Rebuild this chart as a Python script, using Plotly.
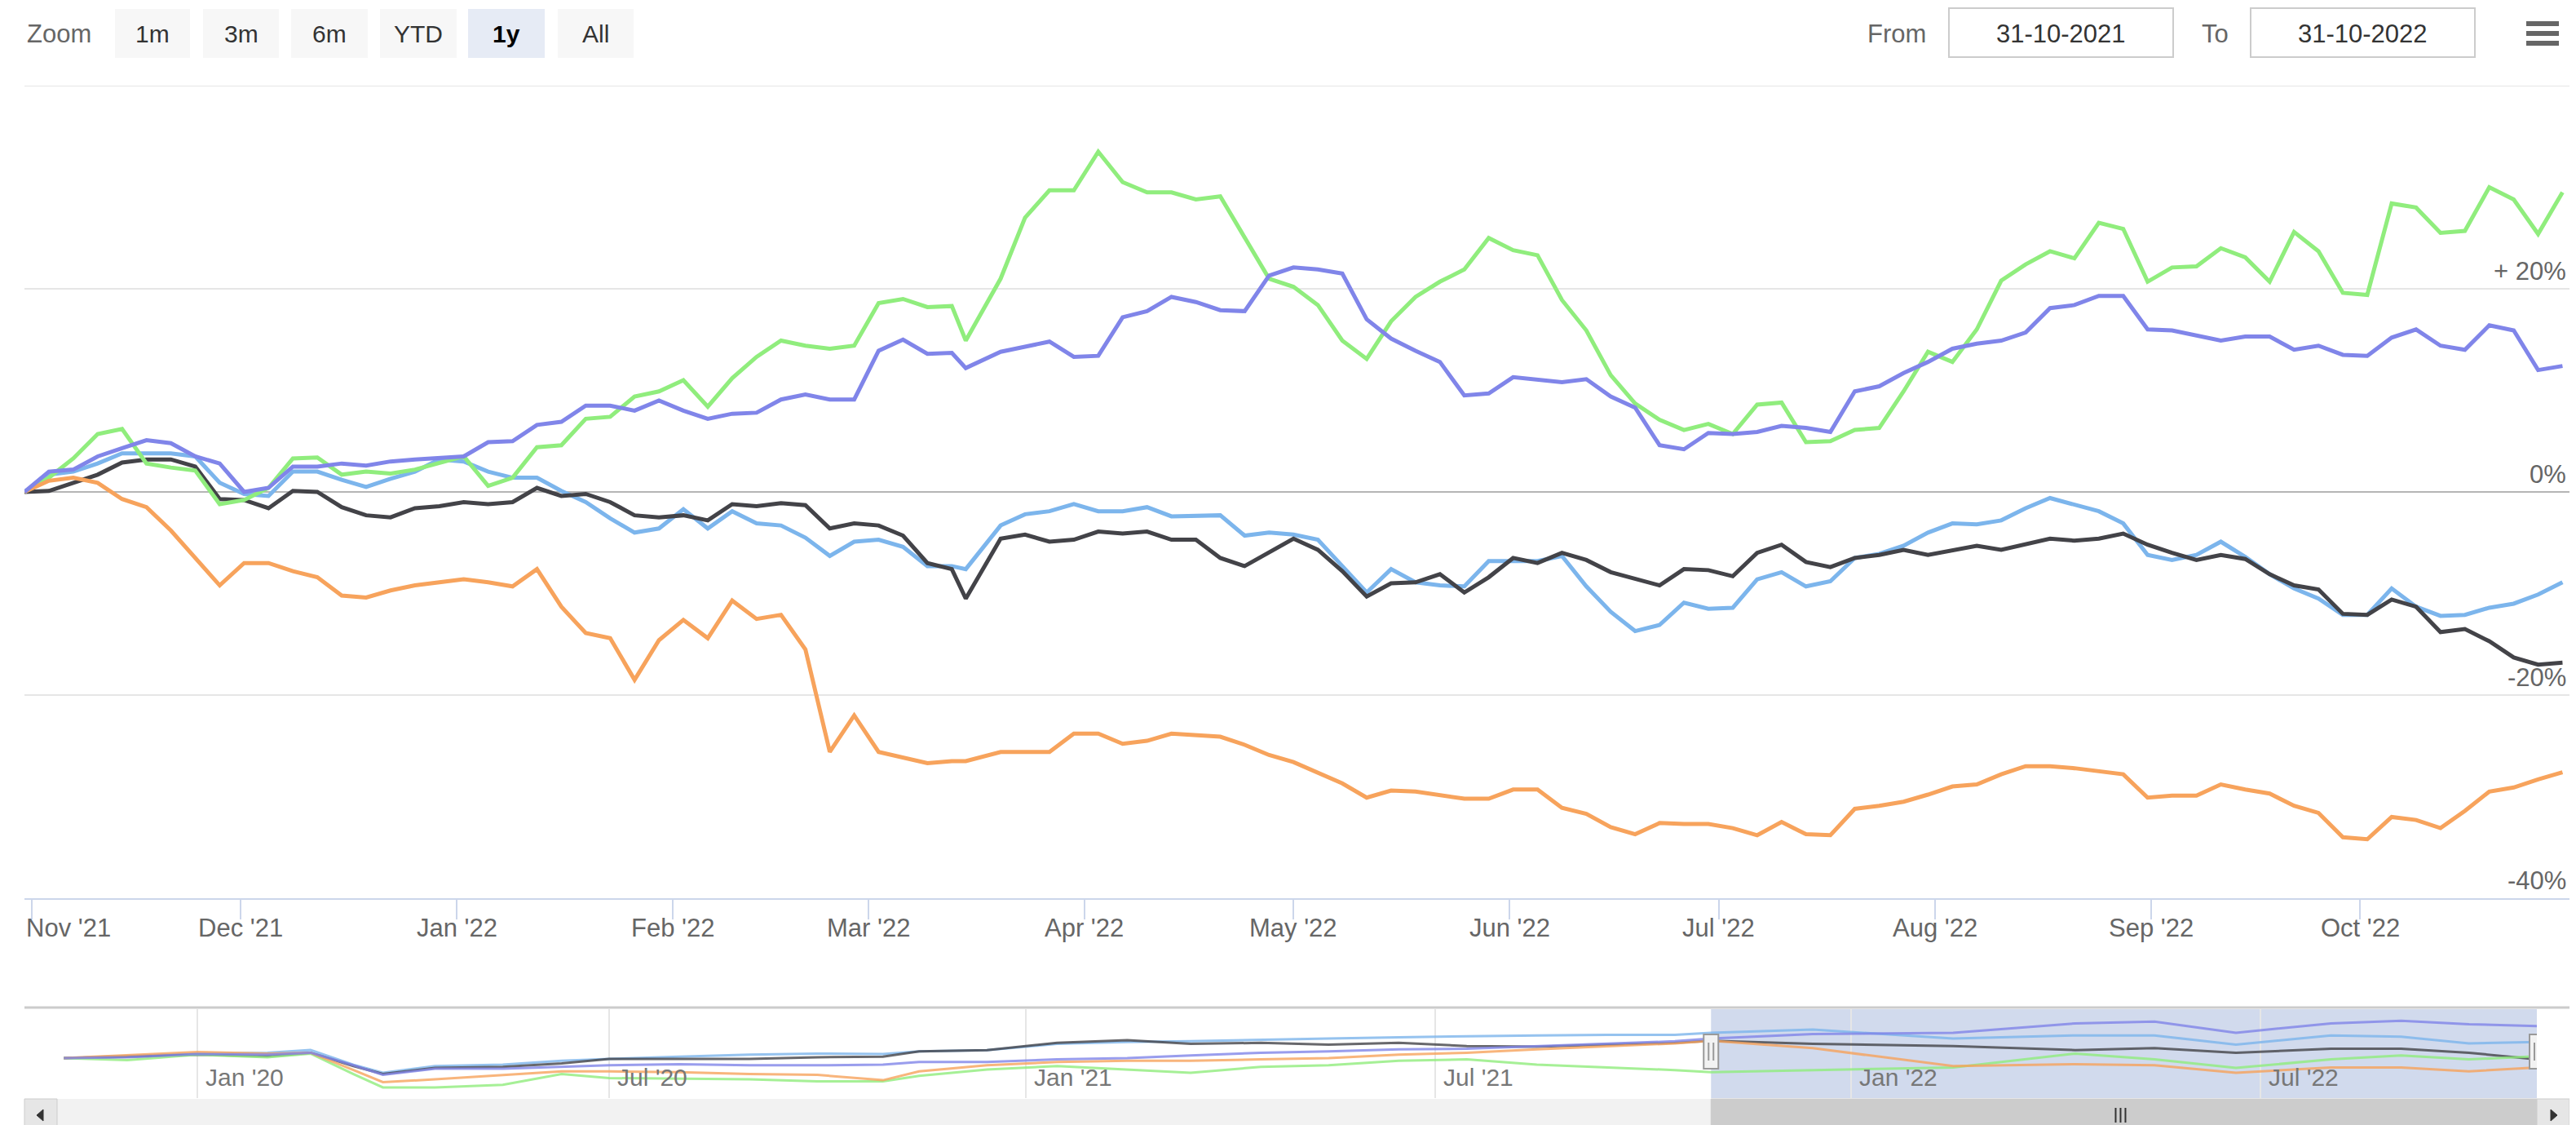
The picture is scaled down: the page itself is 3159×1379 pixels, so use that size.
import plotly.graph_objects as go

# ---------------- data ----------------
dates = [
"2021-10-31", "2021-11-03 12:00", "2021-11-07", "2021-11-10 12:00", "2021-11-14", "2021-11-17 12:00", "2021-11-21", "2021-11-24 12:00", "2021-11-28", "2021-12-01 12:00",
"2021-12-05", "2021-12-08 12:00", "2021-12-12", "2021-12-15 12:00", "2021-12-19", "2021-12-22 12:00", "2021-12-26", "2021-12-29 12:00", "2022-01-02", "2022-01-05 12:00",
"2022-01-09", "2022-01-12 12:00", "2022-01-16", "2022-01-19 12:00", "2022-01-23", "2022-01-26 12:00", "2022-01-30", "2022-02-02 12:00", "2022-02-06", "2022-02-09 12:00",
"2022-02-13", "2022-02-16 12:00", "2022-02-20", "2022-02-23 12:00", "2022-02-27", "2022-03-02 12:00", "2022-03-06", "2022-03-09 12:00", "2022-03-13", "2022-03-15",
"2022-03-20", "2022-03-23 12:00", "2022-03-27", "2022-03-30 12:00", "2022-04-03", "2022-04-06 12:00", "2022-04-10", "2022-04-13 12:00", "2022-04-17", "2022-04-20 12:00",
"2022-04-24", "2022-04-27 12:00", "2022-05-01", "2022-05-04 12:00", "2022-05-08", "2022-05-11 12:00", "2022-05-15", "2022-05-18 12:00", "2022-05-22", "2022-05-25 12:00",
"2022-05-29", "2022-06-01 12:00", "2022-06-05", "2022-06-08 12:00", "2022-06-12", "2022-06-15 12:00", "2022-06-19", "2022-06-22 12:00", "2022-06-26", "2022-06-29 12:00",
"2022-07-03", "2022-07-06 12:00", "2022-07-10", "2022-07-13 12:00", "2022-07-17", "2022-07-20 12:00", "2022-07-24", "2022-07-27 12:00", "2022-07-31", "2022-08-03 12:00",
"2022-08-07", "2022-08-10 12:00", "2022-08-14", "2022-08-17 12:00", "2022-08-21", "2022-08-24 12:00", "2022-08-28", "2022-08-31 12:00", "2022-09-04", "2022-09-07 12:00",
"2022-09-11", "2022-09-14 12:00", "2022-09-18", "2022-09-21 12:00", "2022-09-25", "2022-09-28 12:00", "2022-10-02", "2022-10-05 12:00", "2022-10-09", "2022-10-12 12:00",
"2022-10-16", "2022-10-19 12:00", "2022-10-23", "2022-10-26 12:00", "2022-10-30",
]

lightblue_pct = [
0, 1.7, 2.0, 2.8, 3.8, 3.8, 3.8, 3.5, 0.9, -0.2,
-0.4, 2.0, 2.0, 1.2, 0.5, 1.3, 2.0, 3.2, 3.0, 2.0,
1.4, 1.4, 0.1, -1.0, -2.6, -4.0, -3.6, -1.7, -3.6, -1.9,
-3.1, -3.3, -4.5, -6.3, -4.9, -4.7, -5.4, -7.3, -7.3, -7.6,
-3.3, -2.2, -1.9, -1.2, -1.9, -1.9, -1.5, -2.4, -2.4, -2.3,
-4.3, -4.0, -4.2, -4.7, -7.3, -9.9, -7.6, -8.9, -9.2, -9.3,
-6.8, -6.8, -6.8, -6.3, -9.3, -11.8, -13.7, -13.1, -10.9, -11.5,
-11.4, -8.6, -7.9, -9.3, -8.8, -6.5, -6.1, -5.3, -4.0, -3.1,
-3.2, -2.8, -1.6, -0.6, -1.2, -1.9, -3.1, -6.2, -6.7, -6.2,
-4.9, -6.4, -8.1, -9.5, -10.5, -12.1, -12.1, -9.5, -11.3, -12.2,
-12.1, -11.4, -11.0, -10.1, -8.9,
]

dark_pct = [
0, 0.1, 0.9, 1.7, 2.9, 3.2, 3.2, 2.5, -0.7, -0.8,
-1.6, 0.1, 0.0, -1.5, -2.3, -2.5, -1.6, -1.4, -1.0, -1.2,
-1.0, 0.4, -0.4, -0.2, -1.0, -2.3, -2.5, -2.3, -2.8, -1.2,
-1.4, -1.1, -1.3, -3.6, -3.1, -3.3, -4.3, -7.0, -7.6, -10.5,
-4.6, -4.2, -4.9, -4.7, -3.9, -4.1, -3.9, -4.7, -4.7, -6.5,
-7.3, -6.0, -4.6, -5.7, -7.8, -10.3, -9.0, -8.9, -8.1, -9.9,
-8.4, -6.5, -7.0, -6.0, -6.7, -7.9, -8.6, -9.2, -7.6, -7.7,
-8.3, -6.0, -5.2, -6.9, -7.4, -6.5, -6.2, -5.7, -6.2, -5.7,
-5.3, -5.7, -5.1, -4.6, -4.8, -4.6, -4.1, -5.2, -6.0, -6.7,
-6.2, -6.6, -8.1, -9.2, -9.6, -12.0, -12.1, -10.6, -11.3, -13.8,
-13.5, -14.7, -16.3, -17.0, -16.8,
]

green_pct = [
0, 1.4, 3.3, 5.7, 6.2, 2.8, 2.4, 2.1, -1.2, -0.8,
0.4, 3.3, 3.4, 1.7, 2.0, 1.8, 2.2, 2.8, 3.5, 0.6,
1.4, 4.4, 4.6, 7.2, 7.4, 9.4, 9.9, 11.0, 8.4, 11.2,
13.3, 14.9, 14.4, 14.1, 14.4, 18.6, 19.0, 18.2, 18.3, 14.9,
21.0, 27.0, 29.7, 29.7, 33.5, 30.5, 29.5, 29.5, 28.8, 29.1,
25.0, 21.0, 20.2, 18.4, 14.9, 13.1, 16.8, 19.2, 20.7, 21.9,
25.0, 23.8, 23.3, 18.9, 15.9, 11.5, 8.7, 7.1, 6.1, 6.7,
5.7, 8.6, 8.8, 4.9, 5.0, 6.1, 6.3, 9.9, 13.8, 12.8,
16.0, 20.8, 22.4, 23.7, 23.0, 26.5, 25.9, 20.7, 22.1, 22.2,
24.0, 23.1, 20.7, 25.6, 23.7, 19.6, 19.4, 28.4, 28.0, 25.5,
25.7, 30.0, 28.8, 25.4, 29.5,
]

orange_pct = [
0, 1.1, 1.4, 0.9, -0.7, -1.5, -3.8, -6.5, -9.2, -7.0,
-7.0, -7.8, -8.4, -10.2, -10.4, -9.7, -9.2, -8.9, -8.6, -8.9,
-9.3, -7.6, -11.3, -13.9, -14.4, -18.5, -14.6, -12.6, -14.4, -10.7,
-12.5, -12.1, -15.5, -25.6, -22.0, -25.6, -26.1, -26.7, -26.5, -26.5,
-25.6, -25.6, -25.6, -23.8, -23.8, -24.8, -24.5, -23.8, -24.0, -24.1,
-24.9, -25.9, -26.6, -27.7, -28.7, -30.1, -29.4, -29.5, -29.8, -30.2,
-30.2, -29.3, -29.3, -31.1, -31.7, -33.0, -33.7, -32.6, -32.7, -32.7,
-33.1, -33.8, -32.5, -33.7, -33.8, -31.2, -30.9, -30.5, -29.8, -29.0,
-28.8, -27.8, -27.0, -27.0, -27.2, -27.5, -27.8, -30.1, -29.9, -29.9,
-28.8, -29.3, -29.7, -30.9, -31.6, -34.0, -34.2, -32.0, -32.3, -33.1,
-31.4, -29.5, -29.1, -28.3, -27.6,
]

purple_pct = [
0, 2.0, 2.2, 3.5, 4.3, 5.1, 4.8, 3.5, 2.8, 0.0,
0.4, 2.5, 2.5, 2.8, 2.6, 3.0, 3.2, 3.4, 3.5, 4.9,
5.0, 6.6, 6.9, 8.5, 8.5, 8.0, 9.0, 8.0, 7.2, 7.7,
7.8, 9.1, 9.6, 9.1, 9.1, 13.9, 15.0, 13.6, 13.7, 12.2,
13.8, 14.3, 14.8, 13.3, 13.4, 17.2, 17.8, 19.2, 18.7, 17.9,
17.8, 21.3, 22.1, 21.9, 21.5, 17.0, 15.1, 13.9, 12.8, 9.5,
9.7, 11.3, 11.1, 10.8, 11.1, 9.4, 8.3, 4.6, 4.2, 5.8,
5.7, 5.9, 6.5, 6.3, 5.9, 9.9, 10.4, 11.7, 12.8, 14.1,
14.6, 14.9, 15.7, 18.1, 18.4, 19.3, 19.3, 16.0, 15.9, 15.4,
14.9, 15.3, 15.3, 14.0, 14.4, 13.5, 13.4, 15.2, 16.0, 14.4,
14.0, 16.4, 15.9, 12.0, 12.4,
]

# navigator (3-year history, index = 100 at start)
nav_dates = [
"2019-11-03", "2019-12-01", "2020-01-01", "2020-02-01", "2020-02-20", "2020-03-10", "2020-03-23", "2020-04-15", "2020-05-15", "2020-06-10",
"2020-07-01", "2020-08-01", "2020-09-01", "2020-10-01", "2020-10-30", "2020-11-15", "2020-12-15", "2021-01-15", "2021-02-15", "2021-03-15",
"2021-04-15", "2021-05-15", "2021-06-15", "2021-07-15", "2021-08-15", "2021-09-15", "2021-10-15", "2021-10-31", "2021-12-15", "2022-02-15",
"2022-04-10", "2022-05-15", "2022-06-20", "2022-08-01", "2022-09-01", "2022-10-01", "2022-10-31",
]
nav_lightblue = [100, 102.1, 105.1, 106.0, 109.0, 92.5, 83.5, 91.0, 92.5, 97.0, 99.1, 101.5, 103.9, 105.1, 104.5, 107.5, 109.0, 115.9, 118.0, 118.9,
                 120.1, 121.9, 123.4, 124.6, 125.5, 126.1, 126.1, 128.5, 132.1, 121.9, 125.5, 125.5, 115.0, 125.5, 124.0, 116.5, 118.0]
nav_dark = [100, 101.5, 103.9, 102.1, 106.0, 91.0, 82.0, 88.9, 90.1, 94.0, 99.1, 99.1, 99.1, 100.9, 101.5, 107.5, 109.0, 117.1, 120.1, 115.9,
            117.1, 115.0, 117.1, 113.5, 112.9, 115.0, 117.1, 119.5, 115.9, 113.5, 109.0, 111.1, 106.0, 110.5, 110.5, 106.0, 98.5]
nav_green = [100, 97.6, 103.9, 100.9, 105.1, 82.0, 67.0, 67.0, 70.0, 82.0, 77.5, 76.9, 76.0, 73.9, 73.9, 79.9, 87.1, 91.0, 87.1, 83.5,
             90.1, 91.9, 97.0, 98.5, 92.5, 89.5, 86.5, 84.1, 86.5, 89.5, 105.1, 98.5, 88.9, 98.5, 103.0, 98.5, 102.1]
nav_orange = [100, 103.0, 106.9, 105.1, 106.0, 86.5, 73.0, 76.0, 80.5, 85.0, 85.0, 84.1, 82.0, 81.1, 75.1, 85.0, 91.9, 95.5, 97.0, 97.0,
              98.5, 100.0, 103.9, 106.0, 109.9, 113.5, 116.5, 119.5, 111.1, 91.0, 93.1, 91.9, 83.5, 89.5, 89.5, 85.0, 89.5]
nav_purple = [100, 100.9, 104.5, 103.9, 106.0, 91.9, 81.1, 88.0, 88.0, 90.1, 91.9, 93.1, 91.9, 91.9, 92.5, 95.5, 95.5, 98.5, 100.0, 103.0,
              106.0, 107.5, 109.9, 110.5, 113.5, 116.5, 118.9, 121.9, 127.0, 128.5, 139.0, 141.1, 128.5, 139.0, 142.0, 138.1, 136.0]

month_ticks = ["2021-11-01", "2021-12-01", "2022-01-01", "2022-02-01", "2022-03-01", "2022-04-01", "2022-05-01",
               "2022-06-01", "2022-07-01", "2022-08-01", "2022-09-01", "2022-10-01"]
month_labels = ["Nov '21", "Dec '21", "Jan '22", "Feb '22", "Mar '22", "Apr '22", "May '22",
                "Jun '22", "Jul '22", "Aug '22", "Sep '22", "Oct '22"]
y_ticks = [-40, -20, 0, 20, 40]
y_labels = {-40: "-40%", -20: "-20%", 0: "0%", 20: "+ 20%"}
nav_ticks = ["2020-01-01", "2020-07-01", "2021-01-01", "2021-07-01", "2022-01-01", "2022-07-01"]
nav_labels = ["Jan '20", "Jul '20", "Jan '21", "Jul '21", "Jan '22", "Jul '22"]
range_start, range_end = "2021-10-31", "2022-10-31"
nav_start, nav_end = "2019-10-31", "2022-10-31"

# ---------------- layout helpers ----------------
W, H = 3159, 1379
def px(x): return x / W
def py(y): return 1 - y / H

FONT = "Liberation Sans, Arial, sans-serif"
series = [
    ("lightblue", lightblue_pct, nav_lightblue, "#7cb5ec"),
    ("dark", dark_pct, nav_dark, "#434348"),
    ("green", green_pct, nav_green, "#90ed7d"),
    ("orange", orange_pct, nav_orange, "#f7a35c"),
    ("purple", purple_pct, nav_purple, "#8085e9"),
]

fig = go.Figure()
for name, vals, nav, col in series:
    fig.add_trace(go.Scatter(x=dates, y=vals, mode="lines", name=name,
                             line=dict(color=col, width=5), xaxis="x", yaxis="y",
                             showlegend=False, hoverinfo="skip"))
for name, vals, nav, col in series:
    fig.add_trace(go.Scatter(x=nav_dates, y=nav, mode="lines", name=name + " nav",
                             line=dict(color=col, width=3), opacity=0.8,
                             xaxis="x2", yaxis="y2", showlegend=False, hoverinfo="skip"))

shapes = []
ann = []

# top gridline (40 %)
shapes.append(dict(type="line", xref="x domain", yref="y", x0=0, x1=1, y0=40, y1=40,
                   line=dict(color="#e6e6e6", width=2), layer="below"))

# x tick labels (main)
for d, lab in zip(month_ticks, month_labels):
    if lab == month_labels[0]:
        ann.append(dict(x=range_start, xref="x", y=py(1129), yref="paper", text=lab, showarrow=False,
                        xanchor="left", yanchor="middle", font=dict(family=FONT, size=31, color="#666666")))
    else:
        ann.append(dict(x=d, xref="x", y=py(1129), yref="paper", text=lab, showarrow=False,
                        xanchor="center", yanchor="middle", font=dict(family=FONT, size=31, color="#666666")))
# y labels (inside, right)
for v, lab in y_labels.items():
    ann.append(dict(x=px(3141), xref="paper", y=v, yref="y", text=lab, showarrow=False, yshift=2,
                    xanchor="right", yanchor="bottom", font=dict(family=FONT, size=31, color="#666666")))

# navigator
shapes.append(dict(type="rect", xref="x2", yref="paper", x0=range_start, x1=range_end, y0=py(1338), y1=py(1229),
                   fillcolor="rgba(102,133,194,0.3)", line=dict(width=0), layer="below"))
shapes.append(dict(type="line", xref="paper", yref="paper", x0=px(22), x1=px(3143), y0=py(1227), y1=py(1227),
                   line=dict(color="#cccccc", width=3)))
for d, lab in zip(nav_ticks, nav_labels):
    ann.append(dict(x=d, xref="x2", y=py(1312), yref="paper", text=lab, showarrow=False, xshift=8,
                    xanchor="left", yanchor="middle", font=dict(family=FONT, size=30, color="#777777")))
for d in (range_start, range_end):
    shapes.append(dict(type="rect", xref="x2", yref="paper", xsizemode="pixel", xanchor=d, x0=-9, x1=9,
                       y0=py(1302), y1=py(1260), fillcolor="#f2f2f2", line=dict(color="#999999", width=2)))
    for off in (-3, 3):
        shapes.append(dict(type="line", xref="x2", yref="paper", xsizemode="pixel", xanchor=d, x0=off, x1=off,
                           y0=py(1292), y1=py(1270), line=dict(color="#999999", width=2)))

# scrollbar
shapes.append(dict(type="rect", xref="paper", yref="paper", x0=px(22), x1=px(3143), y0=py(1379), y1=py(1339),
                   fillcolor="#f2f2f2", line=dict(width=0)))
shapes.append(dict(type="rect", xref="x2", yref="paper", x0=range_start, x1=range_end, y0=py(1379), y1=py(1339),
                   fillcolor="#cccccc", line=dict(color="#cccccc", width=1)))
for off in (-6, 0, 6):
    shapes.append(dict(type="line", xref="x2", yref="paper", xsizemode="pixel", xanchor="2022-04-30", x0=off, x1=off,
                       y0=py(1368), y1=py(1350), line=dict(color="#333333", width=2)))
for x0, x1, pts in ((22, 62, [(45, 1352), (37, 1359), (45, 1366)]), (3103, 3143, [(3120, 1352), (3128, 1359), (3120, 1366)])):
    shapes.append(dict(type="rect", xref="paper", yref="paper", x0=px(x0), x1=px(x1), y0=py(1379), y1=py(1339),
                       fillcolor="#e6e6e6", line=dict(color="#cccccc", width=1)))
    path = "M {} {} L {} {} L {} {} Z".format(*[c for p in pts for c in (px(p[0]), py(p[1]))])
    shapes.append(dict(type="path", xref="paper", yref="paper", path=path, fillcolor="#333333",
                       line=dict(color="#333333", width=1)))

# range selector
ann.append(dict(x=px(23), xref="paper", y=py(33), yref="paper", text="Zoom", showarrow=False,
                xanchor="left", yanchor="middle", font=dict(family=FONT, size=31, color="#666666")))
buttons = [("1m", 133, 225), ("3m", 241, 334), ("6m", 349, 443), ("YTD", 458, 552), ("1y", 566, 660), ("All", 676, 769)]
for lab, x0, x1 in buttons:
    sel = lab == "1y"
    shapes.append(dict(type="rect", xref="paper", yref="paper", x0=px(x0), x1=px(x1), y0=py(63), y1=py(3),
                       fillcolor="#e6ebf5" if sel else "#f7f7f7", line=dict(width=0)))
    ann.append(dict(x=px((x0 + x1) / 2), xref="paper", y=py(33), yref="paper",
                    text="<b>%s</b>" % lab if sel else lab, showarrow=False,
                    xanchor="center", yanchor="middle",
                    font=dict(family=FONT, size=30, color="#000000" if sel else "#333333")))

ann.append(dict(x=px(2356), xref="paper", y=py(33), yref="paper", text="From", showarrow=False,
                xanchor="right", yanchor="middle", font=dict(family=FONT, size=31, color="#666666")))
ann.append(dict(x=px(2727), xref="paper", y=py(33), yref="paper", text="To", showarrow=False,
                xanchor="right", yanchor="middle", font=dict(family=FONT, size=31, color="#666666")))
for txt, x0, x1 in (("31-10-2021", 2382, 2657), ("31-10-2022", 2752, 3027)):
    shapes.append(dict(type="rect", xref="paper", yref="paper", x0=px(x0), x1=px(x1), y0=py(62), y1=py(2),
                       fillcolor="#ffffff", line=dict(color="#cccccc", width=2)))
    ann.append(dict(x=px((x0 + x1) / 2), xref="paper", y=py(33), yref="paper", text=txt, showarrow=False,
                    xanchor="center", yanchor="middle", font=dict(family=FONT, size=31, color="#333333")))
for yy in (21, 33, 45):
    shapes.append(dict(type="line", xref="paper", yref="paper", x0=px(3090), x1=px(3130), y0=py(yy), y1=py(yy),
                       line=dict(color="#666666", width=6)))

fig.update_layout(
    width=W, height=H, margin=dict(l=0, r=0, t=0, b=0),
    paper_bgcolor="white", plot_bgcolor="rgba(0,0,0,0)",
    showlegend=False, shapes=shapes, annotations=ann,
    xaxis=dict(domain=[px(22), px(3143)], range=[range_start, range_end], type="date", anchor="y",
               showgrid=False, zeroline=False, showline=True, linecolor="#ccd6eb", linewidth=2,
               ticks="outside", ticklen=24, tickwidth=2, tickcolor="#ccd6eb",
               tickvals=month_ticks, showticklabels=False, fixedrange=True),
    yaxis=dict(domain=[py(1093), py(97)], range=[-40, 40], anchor="x", tickvals=y_ticks,
               showticklabels=False, showgrid=True, gridcolor="#e6e6e6", gridwidth=2,
               zeroline=True, zerolinecolor="#b5b5b5", zerolinewidth=2, fixedrange=True),
    xaxis2=dict(domain=[px(62), px(3103)], range=[nav_start, nav_end], type="date", anchor="y2",
                showgrid=True, gridcolor="#e6e6e6", gridwidth=2, tickvals=nav_ticks,
                showticklabels=False, zeroline=False, showline=False, ticks="", fixedrange=True),
    yaxis2=dict(domain=[py(1338), py(1229)], range=[55, 155], anchor="x2", showgrid=False,
                showticklabels=False, zeroline=False, fixedrange=True),
)

fig.write_html("out.html", config={"displayModeBar": False})
